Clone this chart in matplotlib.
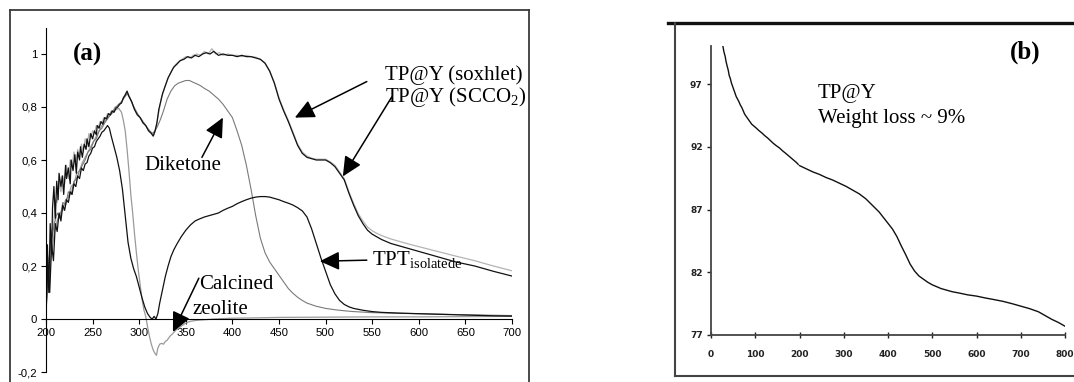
import matplotlib
matplotlib.use("Agg")
import matplotlib.pyplot as plt
from matplotlib.lines import Line2D

# ---------------- data: panel (a) UV-Vis ----------------
sox_x = [200, 201.5, 203, 204.5, 206, 207, 208.5, 210, 211.5, 213, 214, 216, 217.5, 219, 221, 222, 224, 226, 227, 229,
         231, 232.5, 234, 236, 237, 239, 241, 243, 244, 246, 248, 250, 252, 254, 255, 257, 259, 261, 263, 265,
         267, 269, 271, 273, 275, 277, 279, 281, 283, 285, 287, 289,
         292, 295, 298, 301, 304, 307, 310, 313, 315, 317, 319, 321, 323, 325,
         328, 331, 334, 337, 340, 344, 348, 352, 356, 360, 364, 368, 372, 376, 380, 385, 390, 395, 400, 405,
         410, 415, 420, 425, 430, 435, 440, 445, 450, 455, 460, 465, 470, 475, 480, 485, 490, 495, 500, 505,
         510, 515, 520, 525, 530, 535, 540, 545, 550, 555, 560, 570, 580, 590, 600, 620, 640, 660, 680, 700]
sox_y = [0.05, 0.28, 0.10, 0.36, 0.25, 0.42, 0.50, 0.38, 0.52, 0.45, 0.55, 0.50, 0.54, 0.47, 0.58, 0.53, 0.57, 0.51, 0.60, 0.56,
         0.62, 0.55, 0.63, 0.60, 0.65, 0.61, 0.66, 0.64, 0.68, 0.65, 0.70, 0.68, 0.71, 0.695, 0.73, 0.72, 0.745, 0.735, 0.76, 0.755,
         0.775, 0.77, 0.785, 0.78, 0.795, 0.80, 0.81, 0.815, 0.835, 0.845, 0.86, 0.84,
         0.82, 0.79, 0.77, 0.76, 0.74, 0.73, 0.71, 0.70, 0.69, 0.71, 0.74, 0.79, 0.82, 0.85,
         0.88, 0.91, 0.93, 0.95, 0.96, 0.975, 0.98, 0.99, 0.985, 0.995, 0.99, 1.0, 1.005, 1.0, 1.01, 0.995, 1.0, 0.995, 0.995, 0.99,
         0.995, 0.99, 0.99, 0.985, 0.98, 0.965, 0.935, 0.89, 0.83, 0.785, 0.745, 0.70, 0.655, 0.625, 0.61, 0.605, 0.60, 0.60, 0.60, 0.59,
         0.575, 0.55, 0.525, 0.475, 0.43, 0.39, 0.36, 0.335, 0.32, 0.31, 0.30, 0.285, 0.275, 0.265, 0.255, 0.235, 0.215, 0.20, 0.18, 0.162]

scco2_x = [200, 202, 204, 206, 208, 210, 212, 214, 216, 218, 220, 222, 224, 226, 228, 230, 232, 234, 236, 238,
           240, 242, 244, 246, 248, 250, 252, 254, 256, 258, 260, 262, 264, 266, 268, 270, 272, 274, 276, 278,
           280, 282, 284, 286, 288, 290, 293, 296, 299, 302, 305, 308, 311, 314, 316, 318, 320, 322, 324, 327,
           330, 333, 336, 339, 342, 346, 350, 354, 358, 362, 366, 370, 374, 378, 382, 386, 390, 395, 400, 405,
           410, 415, 420, 425, 430, 435, 440, 445, 450, 455, 460, 465, 470, 475, 480, 485, 490, 495, 500, 505,
           510, 515, 520, 525, 530, 535, 540, 545, 550, 555, 560, 570, 580, 590, 600, 620, 640, 660, 680, 700]
scco2_y = [0.08, 0.20, 0.15, 0.33, 0.35, 0.45, 0.44, 0.52, 0.48, 0.54, 0.51, 0.58, 0.53, 0.60, 0.57, 0.63, 0.58, 0.64, 0.61, 0.66,
           0.63, 0.68, 0.65, 0.70, 0.68, 0.71, 0.70, 0.73, 0.72, 0.745, 0.74, 0.76, 0.755, 0.775, 0.77, 0.785, 0.785, 0.80, 0.80, 0.81,
           0.815, 0.825, 0.84, 0.855, 0.85, 0.835, 0.81, 0.79, 0.77, 0.755, 0.74, 0.725, 0.71, 0.70, 0.695, 0.72, 0.76, 0.80, 0.835, 0.87,
           0.90, 0.925, 0.945, 0.96, 0.97, 0.98, 0.99, 0.985, 0.995, 1.0, 0.995, 1.01, 1.0, 1.02, 1.0, 1.005, 0.995, 1.0, 0.995, 0.995,
           0.99, 0.995, 0.99, 0.988, 0.98, 0.967, 0.937, 0.893, 0.835, 0.79, 0.75, 0.705, 0.66, 0.63, 0.615, 0.607, 0.603, 0.603, 0.603, 0.593,
           0.58, 0.555, 0.53, 0.48, 0.437, 0.398, 0.37, 0.347, 0.333, 0.323, 0.315, 0.302, 0.292, 0.282, 0.273, 0.255, 0.237, 0.22, 0.20, 0.182]

dik_x = [200, 203, 206, 209, 212, 215, 218, 221, 224, 227, 230, 233, 236, 239, 242, 245, 248, 251, 254, 257,
         260, 263, 266, 269, 272, 275, 278, 281, 284, 287, 290, 294, 298, 302, 306, 310, 314, 317, 320, 323,
         326, 330, 334, 338, 342, 346, 350, 354, 358, 362, 366, 370, 375, 380, 385, 390, 395, 400, 405, 410,
         415, 420, 425, 430, 435, 440, 445, 450, 455, 460, 465, 470, 475, 480, 490, 500, 510, 520, 530, 550,
         600, 650, 700]
dik_y = [0.04, 0.22, 0.30, 0.36, 0.40, 0.38, 0.44, 0.43, 0.48, 0.47, 0.52, 0.53, 0.56, 0.58, 0.60, 0.63, 0.64, 0.67, 0.68, 0.71,
         0.72, 0.74, 0.755, 0.77, 0.785, 0.80, 0.81, 0.82, 0.835, 0.85, 0.835, 0.80, 0.775, 0.755, 0.735, 0.715, 0.70, 0.71, 0.73, 0.755,
         0.785, 0.83, 0.86, 0.88, 0.89, 0.895, 0.90, 0.90, 0.893, 0.887, 0.88, 0.87, 0.86, 0.845, 0.83, 0.81, 0.785, 0.76, 0.71, 0.655,
         0.58, 0.49, 0.39, 0.305, 0.25, 0.215, 0.19, 0.165, 0.14, 0.115, 0.097, 0.082, 0.07, 0.06, 0.048, 0.04, 0.035, 0.031, 0.028, 0.024,
         0.02, 0.016, 0.013]

tpt_x = [200, 202, 204, 206, 208, 210, 212, 214, 216, 218, 220, 222, 224, 226, 228, 230, 232, 234, 236, 238,
         240, 242, 244, 246, 248, 250, 252, 254, 256, 258, 260, 262, 264, 266, 268, 270, 273, 276, 279, 282,
         285, 288, 291, 294, 297, 300, 303, 306, 309, 312, 314, 316, 318, 320, 322, 325, 328, 331, 334, 337,
         340, 345, 350, 355, 360, 365, 370, 375, 380, 385, 390, 395, 400, 405, 410, 415, 420, 425, 430, 435,
         440, 445, 450, 455, 460, 465, 470, 475, 480, 485, 490, 495, 500, 505, 510, 515, 520, 525, 530, 540,
         550, 560, 580, 600, 620, 640, 660, 680, 700]
tpt_y = [0.02, 0.20, 0.10, 0.28, 0.22, 0.36, 0.33, 0.40, 0.37, 0.43, 0.41, 0.45, 0.44, 0.48, 0.47, 0.51, 0.50, 0.54, 0.53, 0.57,
         0.56, 0.585, 0.59, 0.615, 0.625, 0.645, 0.65, 0.67, 0.68, 0.69, 0.705, 0.71, 0.72, 0.73, 0.72, 0.69, 0.65, 0.61, 0.56, 0.49,
         0.39, 0.29, 0.23, 0.19, 0.16, 0.12, 0.08, 0.045, 0.02, 0.005, 0.0, 0.01, 0.0, 0.02, 0.06, 0.11, 0.16, 0.20, 0.235, 0.26,
         0.28, 0.31, 0.335, 0.355, 0.37, 0.378, 0.385, 0.39, 0.395, 0.40, 0.41, 0.418, 0.425, 0.435, 0.443, 0.45, 0.456, 0.46, 0.462, 0.462,
         0.46, 0.455, 0.45, 0.443, 0.437, 0.43, 0.42, 0.408, 0.385, 0.34, 0.285, 0.23, 0.18, 0.13, 0.095, 0.07, 0.055, 0.046, 0.04, 0.033,
         0.028, 0.025, 0.022, 0.02, 0.018, 0.016, 0.014, 0.012, 0.011]

zeo_x = [200, 203, 206, 209, 212, 215, 218, 221, 224, 227, 230, 233, 236, 239, 242, 245, 248, 251, 254, 257,
         260, 263, 266, 269, 272, 275, 278, 281, 283, 285, 287, 289, 291, 293, 295, 297, 299, 301, 303, 305,
         307, 309, 311, 313, 315, 317, 318.5, 320, 322, 324, 326, 328, 330, 333, 336, 340, 344, 348, 352, 356,
         362, 370, 380, 400, 420, 450, 500, 550, 600, 650, 700]
zeo_y = [0.03, 0.18, 0.25, 0.33, 0.37, 0.40, 0.41, 0.45, 0.46, 0.50, 0.51, 0.55, 0.56, 0.59, 0.61, 0.63, 0.65, 0.67, 0.69, 0.71,
         0.73, 0.745, 0.76, 0.77, 0.78, 0.79, 0.795, 0.78, 0.75, 0.71, 0.64, 0.56, 0.47, 0.40, 0.32, 0.25, 0.185, 0.13, 0.075, 0.035,
         0.01, -0.03, -0.065, -0.095, -0.117, -0.13, -0.137, -0.11, -0.095, -0.092, -0.095, -0.085, -0.08, -0.065, -0.055, -0.04, -0.03, -0.02, -0.012, -0.008,
         -0.005, -0.003, 0.0, 0.003, 0.004, 0.006, 0.007, 0.008, 0.008, 0.009, 0.01]

a_xticks = [200, 250, 300, 350, 400, 450, 500, 550, 600, 650, 700]
a_yticks = [-0.2, 0.0, 0.2, 0.4, 0.6, 0.8, 1.0]
a_yticklabels = ["-0,2", "0", "0,2", "0,4", "0,6", "0,8", "1"]

# ---------------- data: panel (b) TGA ----------------
tga_x1 = [27, 29, 32, 34, 36, 39, 41, 44, 46, 49, 52, 55, 57, 60, 63, 66, 70, 73, 76, 80,
          84, 88, 92, 97, 102, 108, 115, 121, 128, 134, 140, 147, 155, 161, 168, 173, 178, 183, 188, 193, 197]
tga_y1 = [100.0, 99.6, 99.2, 98.8, 98.5, 98.1, 97.7, 97.4, 97.1, 96.8, 96.5, 96.2, 96.0, 95.8, 95.6, 95.35, 95.1, 94.85, 94.6, 94.4,
          94.2, 94.0, 93.8, 93.65, 93.5, 93.3, 93.1, 92.9, 92.7, 92.5, 92.3, 92.1, 91.9, 91.7, 91.5, 91.35, 91.2, 91.05, 90.9, 90.75, 90.6]
tga_x2 = [200, 215, 230, 245, 260, 275, 290, 305, 320, 335, 350, 360, 370, 380, 390, 400, 410, 420, 430, 440,
          450, 460, 470, 480, 490, 500, 510, 520, 530, 545, 560, 580, 600, 620, 640, 660, 680, 700, 720, 740,
          755, 770, 785, 800]
tga_y2 = [90.5, 90.25, 90.0, 89.8, 89.55, 89.35, 89.1, 88.85, 88.55, 88.25, 87.85, 87.5, 87.15, 86.8, 86.35, 85.9, 85.45, 84.85, 84.1, 83.4,
          82.65, 82.1, 81.7, 81.45, 81.2, 81.0, 80.85, 80.7, 80.6, 80.45, 80.35, 80.2, 80.1, 79.95, 79.82, 79.68, 79.5, 79.3, 79.1, 78.85,
          78.55, 78.25, 78.0, 77.7]

b_xticks = [0, 100, 200, 300, 400, 500, 600, 700, 800]
b_yticks = [77, 82, 87, 92, 97]

# ---------------- figure ----------------
plt.rcParams['font.family'] = ['Liberation Serif', 'DejaVu Serif']
plt.rcParams['mathtext.default'] = 'regular'

W, H = 1074, 382
fig = plt.figure(figsize=(W / 100, H / 100), dpi=100)

def fx(px):
    return px / W

def fy(py):
    return 1 - py / H

# frame around panel (a)
frame_col = '#3a3a3a'
fig.add_artist(Line2D([fx(10), fx(10)], [fy(10), fy(390)], color=frame_col, lw=1.3))
fig.add_artist(Line2D([fx(10), fx(529)], [fy(10), fy(10)], color=frame_col, lw=1.3))
fig.add_artist(Line2D([fx(529), fx(529)], [fy(10), fy(390)], color=frame_col, lw=1.3))

# frame around panel (b)
fig.add_artist(Line2D([fx(668), fx(1080)], [fy(22.5), fy(22.5)], color='#111111', lw=2.4))
fig.add_artist(Line2D([fx(675), fx(675)], [fy(22.5), fy(376)], color='#444444', lw=1.5))
fig.add_artist(Line2D([fx(675), fx(1080)], [fy(376), fy(376)], color='#444444', lw=1.5))

# ---------------- panel (a) ----------------
axa = fig.add_axes([fx(46), 1 - 372 / H, (512 - 46) / W, 344.5 / H])
axa.set_xlim(200, 700)
axa.set_ylim(-0.2, 1.1)
axa.patch.set_alpha(0)

axa.plot(scco2_x, scco2_y, color='#b4b4b4', lw=0.9)
axa.plot(zeo_x, zeo_y, color='#9a9a9a', lw=0.9)
axa.plot(dik_x, dik_y, color='#7a7a7a', lw=0.8)
axa.plot(tpt_x, tpt_y, color='#111111', lw=0.9)
axa.plot(sox_x, sox_y, color='#111111', lw=0.9)

for s in ['top', 'right']:
    axa.spines[s].set_visible(False)
axa.spines['bottom'].set_position(('data', 0))
axa.spines['left'].set_bounds(-0.2, 1.1)
axa.spines['left'].set_linewidth(0.8)
axa.spines['bottom'].set_linewidth(0.8)
axa.set_xticks(a_xticks)
axa.set_xticklabels([str(v) for v in a_xticks])
axa.set_yticks(a_yticks)
axa.set_yticklabels(a_yticklabels)
axa.tick_params(axis='both', direction='out', length=3.5, width=0.8, pad=3,
                labelsize=8.2, labelfontfamily='Liberation Sans', colors='black')

axa.text(229, 1.0, '(a)', fontsize=18, fontweight='bold', ha='left', va='center')
axa.text(563.5, 0.902, 'TP@Y (soxhlet)', fontsize=15, ha='left', va='baseline')
axa.text(563.5, 0.820, 'TP@Y (SCCO$_2$)', fontsize=15, ha='left', va='baseline')
axa.text(306, 0.561, 'Diketone', fontsize=15, ha='left', va='baseline')
axa.text(364, 0.113, 'Calcined', fontsize=15, ha='left', va='baseline')
axa.text(357.6, 0.019, 'zeolite', fontsize=15, ha='left', va='baseline')
axa.text(549.6, 0.203, 'TPT$_{isolatede}$', fontsize=15, ha='left', va='baseline')

arrow_kw = dict(arrowstyle='-|>,head_length=0.8,head_width=0.38', color='black', lw=1.1,
                mutation_scale=15, shrinkA=0, shrinkB=0)
axa.annotate('', xy=(467.0, 0.760), xytext=(544.2, 0.896), arrowprops=arrow_kw)
axa.annotate('', xy=(518.5, 0.538), xytext=(571.0, 0.838), arrowprops=arrow_kw)
axa.annotate('', xy=(389.8, 0.760), xytext=(367.3, 0.610), arrowprops=arrow_kw)
axa.annotate('', xy=(493.8, 0.218), xytext=(544.2, 0.222), arrowprops=arrow_kw)
axa.annotate('', xy=(336.2, -0.049), xytext=(364.0, 0.154), arrowprops=arrow_kw)

# ---------------- panel (b) ----------------
axb = fig.add_axes([fx(711), 1 - 335 / H, (1065 - 711) / W, (335 - 46.4) / H])
axb.set_xlim(0, 800)
axb.set_ylim(77, 100)
axb.patch.set_alpha(0)
axb.plot(tga_x1, tga_y1, color='#111111', lw=1.0)
axb.plot(tga_x2, tga_y2, color='#111111', lw=1.0)
for s in ['top', 'right']:
    axb.spines[s].set_visible(False)
for s in ['left', 'bottom']:
    axb.spines[s].set_color('#444444')
    axb.spines[s].set_linewidth(1.3)
axb.set_xticks(b_xticks)
axb.set_yticks(b_yticks)
axb.tick_params(axis='x', direction='inout', length=4, width=1.0, pad=9, colors='#222222',
                labelsize=6.5)
axb.tick_params(axis='y', direction='out', length=3, width=1.0, pad=3, colors='#222222',
                labelsize=6.5)
for lab in axb.get_xticklabels() + axb.get_yticklabels():
    lab.set_fontfamily('DejaVu Sans')
    lab.set_fontweight('bold')

axb.text(676, 99.5, '(b)', fontsize=18, fontweight='bold', ha='left', va='center')
axb.text(242, 95.88, 'TP@Y', fontsize=15, ha='left', va='baseline')
axb.text(242, 93.92, 'Weight loss ~ 9%', fontsize=15, ha='left', va='baseline')

fig.savefig('out.png', dpi=100)
